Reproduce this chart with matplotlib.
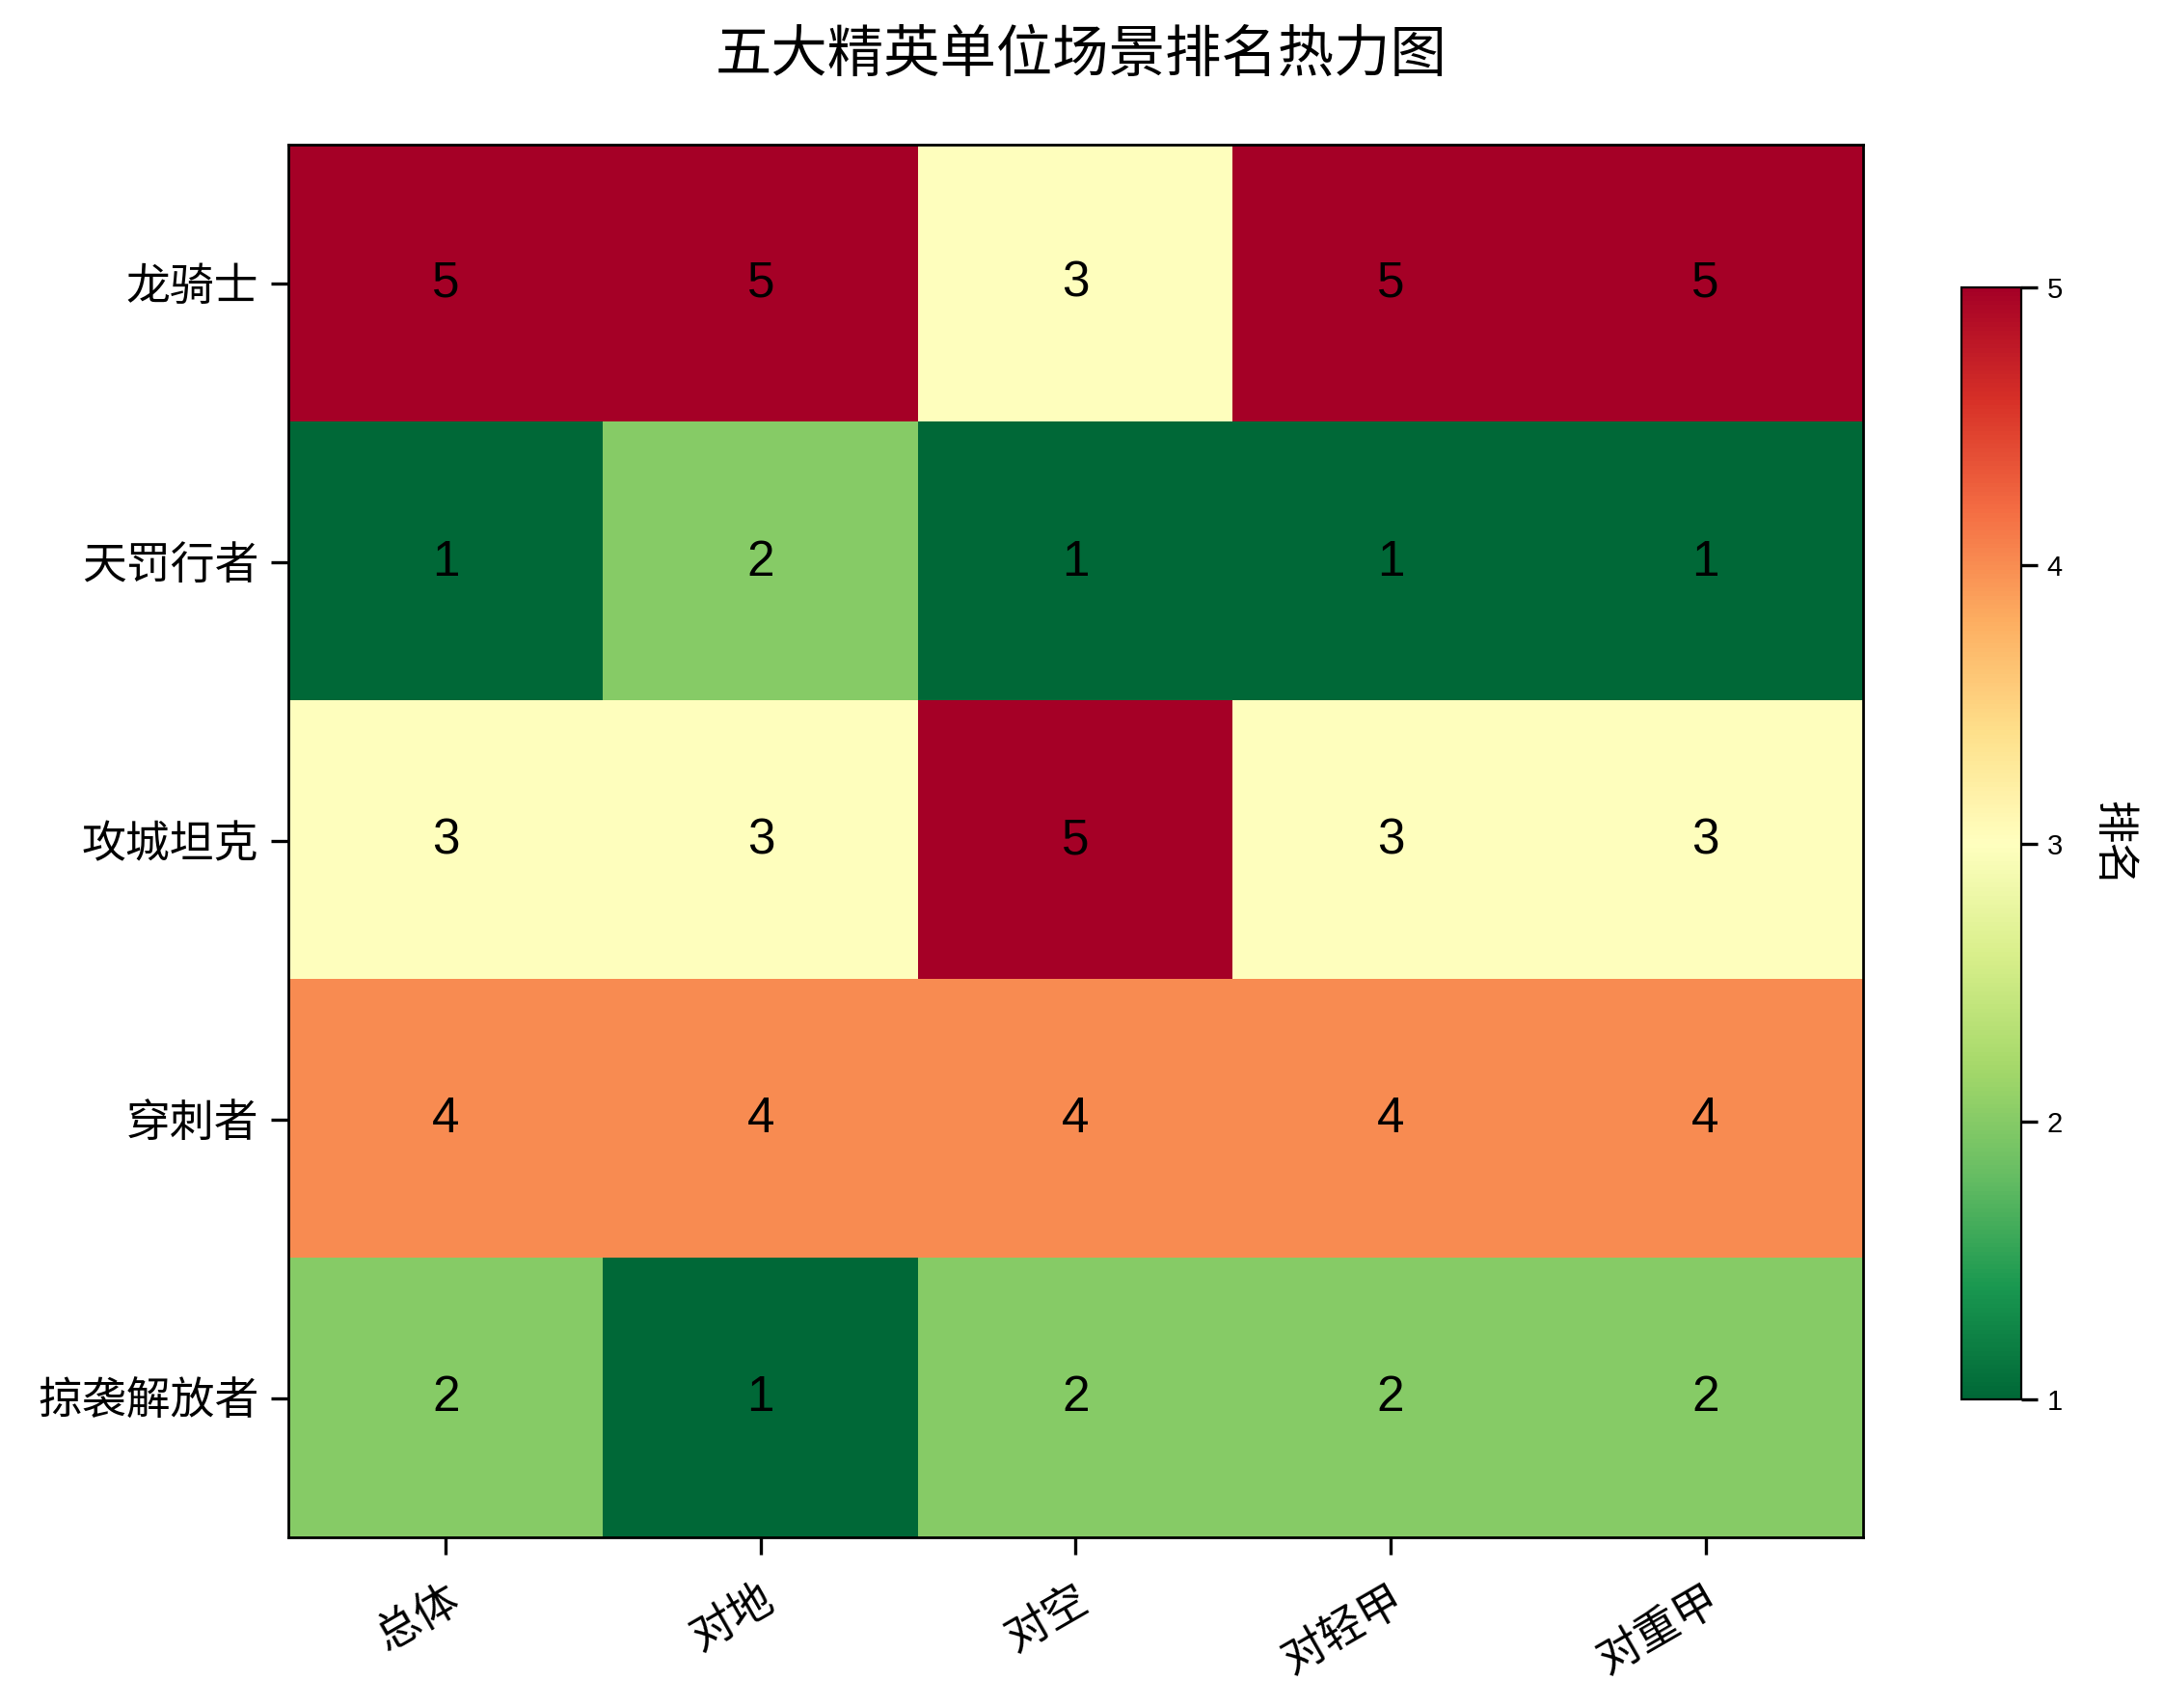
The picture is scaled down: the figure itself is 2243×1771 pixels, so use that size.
import matplotlib
matplotlib.use("Agg")
import matplotlib.pyplot as plt
import numpy as np

plt.rcParams['font.family'] = ['Liberation Sans', 'Noto Sans CJK SC', 'DejaVu Sans']
plt.rcParams['axes.unicode_minus'] = False

units = ['龙骑士', '天罚行者', '攻城坦克', '穿刺者', '掠袭解放者']
scenes = ['总体', '对地', '对空', '对轻甲', '对重甲']
ranks = [
    [5, 5, 3, 5, 5],
    [1, 2, 1, 1, 1],
    [3, 3, 5, 3, 3],
    [4, 4, 4, 4, 4],
    [2, 1, 2, 2, 2],
]
cbar_ticks = [1, 2, 3, 4, 5]

data = np.array(ranks)
fig = plt.figure(figsize=(2243/200, 1771/200), dpi=200)
ax = fig.add_axes([0.1333, 0.0999, 0.728, 0.8154])
cax = fig.add_axes([0.907, 0.1807, 0.0276, 0.651])

im = ax.imshow(data, cmap='RdYlGn_r', vmin=1, vmax=5, aspect='auto')
ax.set_xticks(range(len(scenes)))
ax.set_xticklabels(scenes, rotation=30, ha='right', rotation_mode='anchor', fontsize=16.5)
ax.set_yticks(range(len(units)))
ax.set_yticklabels(units, fontsize=16.5)
ax.tick_params(axis='y', length=6.5, width=1.2, pad=4.5)
ax.tick_params(axis='x', length=6.5, width=1.2, pad=9)
for s in ax.spines.values():
    s.set_linewidth(1.0)

for i in range(data.shape[0]):
    for j in range(data.shape[1]):
        ax.text(j, i, str(data[i, j]), ha='center', va='center', fontsize=18.5, color='black')

cb = fig.colorbar(im, cax=cax, ticks=cbar_ticks)
cb.ax.tick_params(labelsize=10.5, length=6, width=1.2)
cb.set_label('排名', fontsize=16, rotation=270, labelpad=26)

fig.suptitle('五大精英单位场景排名热力图', fontsize=21, y=0.982)

fig.savefig('out.png', dpi=200)
